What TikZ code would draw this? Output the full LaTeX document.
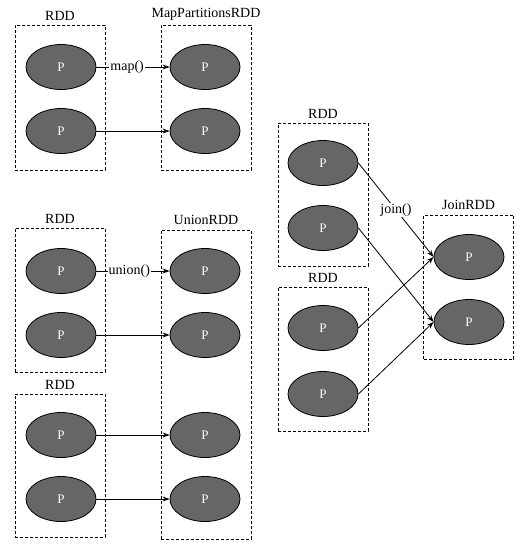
\documentclass[tikz,border=0pt]{standalone}
\usepackage{fontspec}
\setmainfont{Liberation Serif}
\usetikzlibrary{positioning, arrows.meta, shapes.geometric}

\begin{document}
\begin{tikzpicture}[x=1pt, y=-1pt, >={Stealth[length=7pt, width=5pt]},
    part/.style={ellipse, draw, line width=0.8pt, fill=black!60, text=white,
        minimum width=70pt, minimum height=45pt, inner sep=0pt,
        font=\fontsize{13}{15}\selectfont},
    rddbox/.style={draw, line width=0.8pt, dash pattern=on 3pt off 2pt, inner sep=0pt,
        minimum width=90pt},
    title/.style={font=\fontsize{14}{16}\selectfont, above=1pt},
    op/.style={fill=white, inner sep=1pt, font=\fontsize{14}{16}\selectfont},
    flow/.style={->, line width=0.8pt}]
    \useasboundingbox (0,0) rectangle (520,549);
    % map
    \node[rddbox, minimum height=145pt] (mapIn) at (60,97.5) {};
    \node[title] at (mapIn.north) {RDD};
    \node[rddbox, minimum height=145pt] (mapOut) at (206,97.5) {};
    \node[title] at (mapOut.north) {MapPartitionsRDD};
    \node[part] (mapInA) at (61,67) {P};
    \node[part] (mapInB) at (61,131) {P};
    \node[part] (mapOutA) at (205,67) {P};
    \node[part] (mapOutB) at (205,131) {P};
    \draw[flow] (mapInA) -- node[op, pos=0.42] {map()} (mapOutA);
    \draw[flow] (mapInB) -- (mapOutB);
    % union
    \node[rddbox, minimum height=144pt] (uniInA) at (60,300) {};
    \node[title] at (uniInA.north) {RDD};
    \node[rddbox, minimum height=143pt] (uniInB) at (60,465.5) {};
    \node[title] at (uniInB.north) {RDD};
    \node[rddbox, minimum height=309pt] (uniOut) at (206,384.5) {};
    \node[title] at (uniOut.north) {UnionRDD};
    \node[part] (uniA) at (61,271) {P};
    \node[part] (uniB) at (61,335) {P};
    \node[part] (uniC) at (61,435) {P};
    \node[part] (uniD) at (61,499) {P};
    \node[part] (uniOutA) at (205,271) {P};
    \node[part] (uniOutB) at (205,335) {P};
    \node[part] (uniOutC) at (205,435) {P};
    \node[part] (uniOutD) at (205,499) {P};
    \draw[flow] (uniA) -- node[op, pos=0.45] {union()} (uniOutA);
    \draw[flow] (uniB) -- (uniOutB);
    \draw[flow] (uniC) -- (uniOutC);
    \draw[flow] (uniD) -- (uniOutD);
    % join
    \node[rddbox, minimum height=143pt] (joinInA) at (323,194.5) {};
    \node[title] at (joinInA.north) {RDD};
    \node[rddbox, minimum height=144pt] (joinInB) at (323,359) {};
    \node[title] at (joinInB.north) {RDD};
    \node[rddbox, minimum height=144pt] (joinOut) at (468.5,287) {};
    \node[title] at (joinOut.north) {JoinRDD};
    \node[part] (joinA) at (323,163) {P};
    \node[part] (joinB) at (323,228) {P};
    \node[part] (joinC) at (323,328) {P};
    \node[part] (joinD) at (323,394) {P};
    \node[part] (joinOutA) at (469,257) {P};
    \node[part] (joinOutB) at (469,322) {P};
    \draw[flow] (joinA.east) -- node[op, pos=0.5] {join()} (joinOutA.west);
    \draw[flow] (joinB.east) -- (joinOutB.west);
    \draw[flow] (joinC.east) -- (joinOutA.west);
    \draw[flow] (joinD.east) -- (joinOutB.west);
\end{tikzpicture}
\end{document}
